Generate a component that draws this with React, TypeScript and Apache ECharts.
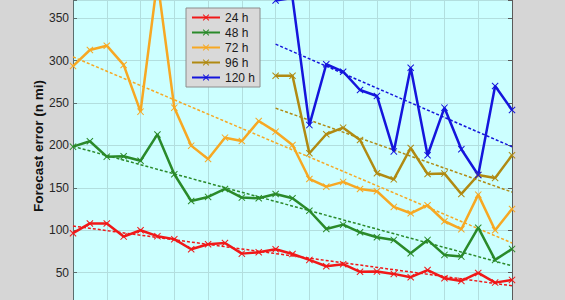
import React, { useEffect, useRef } from "react";
import * as echarts from "echarts";

// Years (x positions; axis labels are outside the visible crop)
const years = Array.from({ length: 27 }, (_, i) => 1989 + i);
const yTicks = [50, 100, 150, 200, 250, 300, 350];

const seriesNames = ["24 h", "48 h", "72 h", "96 h", "120 h"];
const seriesColors = ["#f01818", "#2a8a2a", "#f7a823", "#b08a12", "#1515dc"];

const err24 = [96.5, 108, 108, 92.5, 100, 93, 89.5, 77.6, 83.5, 85, 72.4, 74, 77.6, 72, 65, 57.5, 60, 51, 51.2, 48.5, 44.6, 53, 43.4, 40.2, 49.6, 38.2, 41.4];
const err48 = [198.6, 205, 186.8, 187.3, 182, 213, 166, 134.5, 139.3, 148.7, 138.5, 137.7, 142.8, 137.7, 123, 101.5, 106.6, 97.6, 91.7, 88.6, 72.9, 88.6, 70.9, 68.9, 103, 65, 78];
const err72 = [293.7, 312.6, 317.7, 295, 239.9, 395, 244.6, 199.8, 184, 209.2, 205.3, 228.9, 216.3, 200.6, 160.5, 151.4, 157, 148.7, 146, 127.5, 120, 129.5, 110.6, 101.2, 142, 100, 125];
// 96 h and 120 h start in 2001 (index 12)
const err96 = [282.3, 282.3, 190.8, 213.2, 221, 206.5, 167.2, 160, 197, 166.4, 166.8, 142.8, 165.2, 161.7, 188.4];
const err120 = [371, 374, 224, 295.8, 287, 265.4, 258.4, 193, 291.7, 188.5, 244.6, 195.5, 165.2, 270.2, 241.9];
const startIndex = [0, 0, 0, 12, 12];

// Linear trend end points [start value, end value]
const trend24 = [105, 34.5];
const trend48 = [199, 58];
const trend72 = [304.5, 85];
const trend96 = [244, 145];
const trend120 = [319.5, 198.5];

const X_SYMBOL = "path://M1,0L5,4L9,0L10,1L6,5L10,9L9,10L5,6L1,10L0,9L4,5L0,1Z";

export default function App() {
  const ref = useRef<HTMLDivElement>(null);
  useEffect(() => {
    if (!ref.current) return;
    const chart = echarts.init(ref.current, null, { renderer: "svg" });
    const all = [err24, err48, err72, err96, err120];
    const trends = [trend24, trend48, trend72, trend96, trend120];
    const lastIdx = years.length - 1;
    const mainSeries = all.map((arr, k) => ({
      name: seriesNames[k],
      type: "line",
      data: arr.map((v, i) => [startIndex[k] + i, v]),
      symbol: X_SYMBOL,
      symbolSize: 7,
      lineStyle: { width: 2.5, color: seriesColors[k] },
      itemStyle: { color: seriesColors[k] },
      z: 3,
    }));
    const trendSeries = trends.map((t, k) => ({
      name: seriesNames[k] + " trend",
      type: "line",
      data: [
        [startIndex[k], t[0]],
        [lastIdx, t[1]],
      ],
      symbol: "none",
      silent: true,
      lineStyle: { width: 1.5, type: [3, 2], color: seriesColors[k] },
      z: 2,
    }));
    const font = "'Liberation Sans', Arial, sans-serif";
    chart.setOption({
      animation: false,
      backgroundColor: "#d6d6d6",
      grid: {
        left: 73,
        right: 53,
        top: 0,
        bottom: 1,
        show: true,
        backgroundColor: "#ccffff",
        borderWidth: 0,
      },
      xAxis: {
        type: "value",
        min: 0,
        max: lastIdx,
        interval: 2,
        axisLabel: { show: false },
        axisTick: { show: false },
        axisLine: { show: false },
        splitLine: { show: true, lineStyle: { color: "#b2dede", width: 1 } },
      },
      yAxis: [
        {
          type: "value",
          min: 0,
          max: 371.6,
          interval: 50,
          axisLine: { show: true, lineStyle: { color: "#5a6e6e", width: 1 } },
          axisTick: { show: true, inside: true, length: 4, lineStyle: { color: "#5a6e6e" } },
          axisLabel: {
            color: "#262626",
            fontSize: 12,
            fontFamily: font,
            margin: 4,
            formatter: (v: number) => (yTicks.includes(v) ? String(v) : ""),
          },
          splitLine: { show: true, lineStyle: { color: "#b2dede", width: 1 } },
        },
        {
          type: "value",
          position: "right",
          min: 0,
          max: 371.6,
          interval: 50,
          axisLine: { show: true, lineStyle: { color: "#5a5a5a", width: 1 } },
          axisTick: { show: true, inside: true, length: 4, lineStyle: { color: "#5a5a5a" } },
          axisLabel: { show: false },
          splitLine: { show: false },
        },
      ],
      legend: {
        data: seriesNames,
        orient: "vertical",
        left: 186,
        top: 8,
        itemWidth: 28,
        itemHeight: 8,
        itemGap: 0,
        padding: [2, 5, 2, 5],
        backgroundColor: "#d9d9d9",
        borderColor: "#8c8c8c",
        borderWidth: 1,
        textStyle: { fontSize: 12, lineHeight: 15, color: "#1a1a1a", fontFamily: font },
      },
      graphic: [
        {
          type: "text",
          x: 38.5,
          y: 146,
          rotation: Math.PI / 2,
          style: {
            text: "Forecast error (n mi)",
            fill: "#111",
            font: "bold 13.5px 'Liberation Sans', Arial, sans-serif",
            align: "center",
            verticalAlign: "middle",
          },
        },
      ],
      series: [...trendSeries, ...mainSeries],
    });
    return () => chart.dispose();
  }, []);
  return (
    <div
      style={{
        position: "fixed",
        left: 0,
        top: 0,
        width: 565,
        height: 300,
        overflow: "hidden",
        background: "#d6d6d6",
      }}
    >
      <div ref={ref} style={{ width: 565, height: 316 }} />
    </div>
  );
}
